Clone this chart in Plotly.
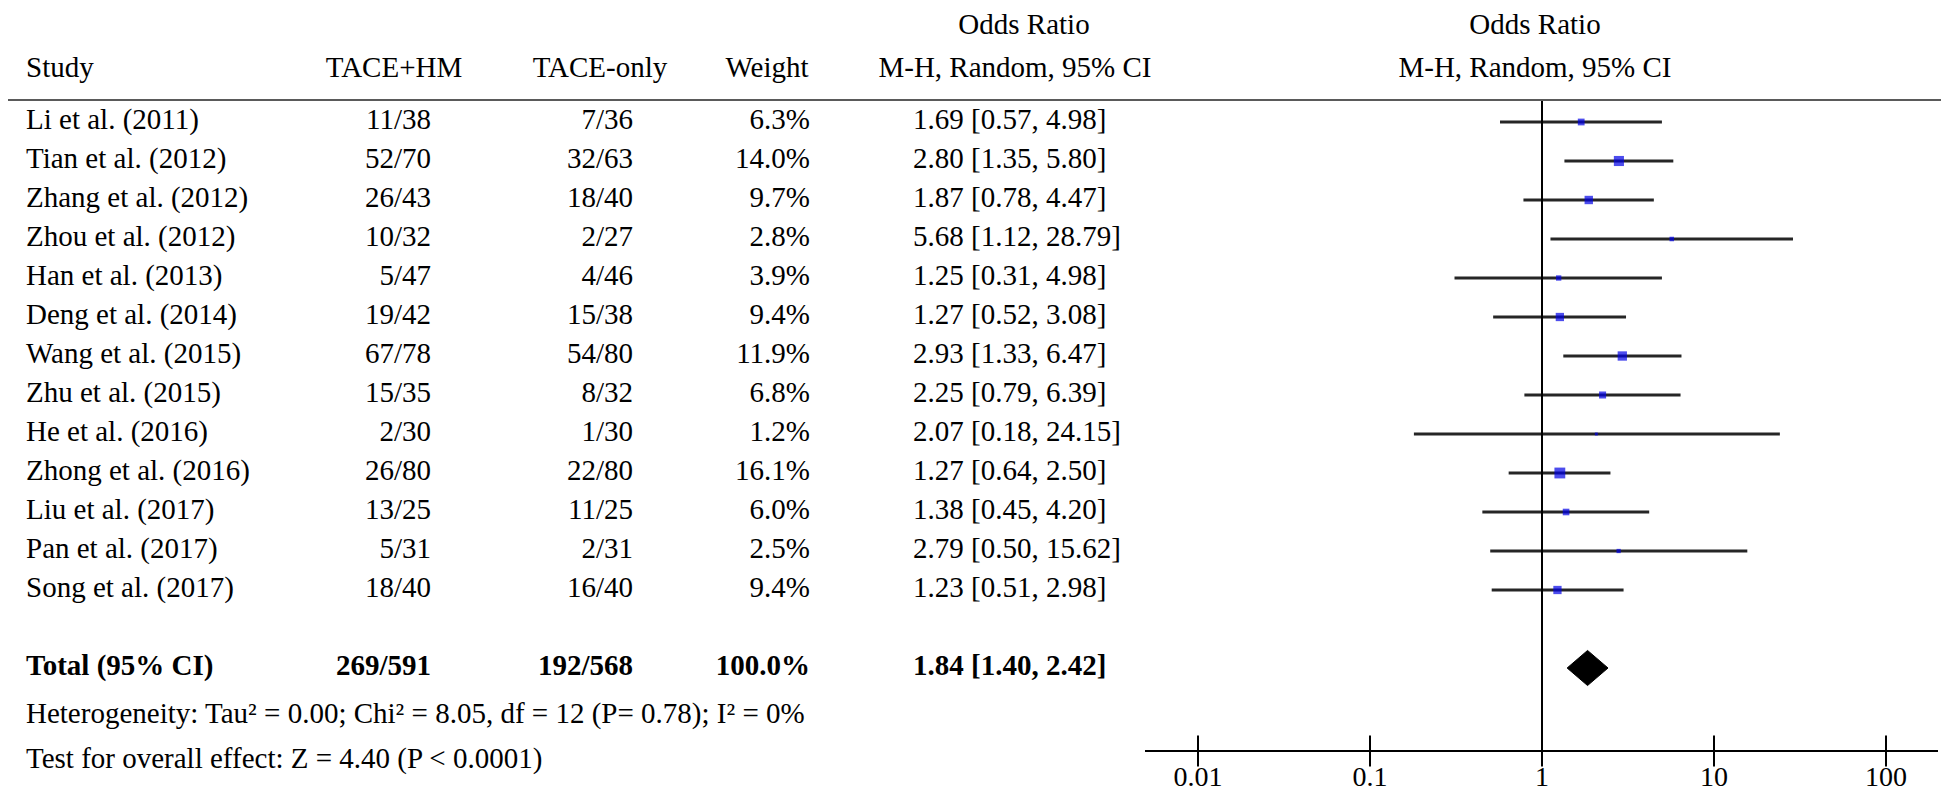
import plotly.graph_objects as go

# ---- data ----
studies = ["Li et al. (2011)", "Tian et al. (2012)", "Zhang et al. (2012)",
           "Zhou et al. (2012)", "Han et al. (2013)", "Deng et al. (2014)",
           "Wang et al. (2015)", "Zhu et al. (2015)", "He et al. (2016)",
           "Zhong et al. (2016)", "Liu et al. (2017)", "Pan et al. (2017)",
           "Song et al. (2017)"]
hm_events = [11, 52, 26, 10, 5, 19, 67, 15, 2, 26, 13, 5, 18]
hm_total = [38, 70, 43, 32, 47, 42, 78, 35, 30, 80, 25, 31, 40]
ctrl_events = [7, 32, 18, 2, 4, 15, 54, 8, 1, 22, 11, 2, 16]
ctrl_total = [36, 63, 40, 27, 46, 38, 80, 32, 30, 80, 25, 31, 40]
weights = [6.3, 14.0, 9.7, 2.8, 3.9, 9.4, 11.9, 6.8, 1.2, 16.1, 6.0, 2.5, 9.4]
odds = [1.69, 2.80, 1.87, 5.68, 1.25, 1.27, 2.93, 2.25, 2.07, 1.27, 1.38, 2.79, 1.23]
ci_low = [0.57, 1.35, 0.78, 1.12, 0.31, 0.52, 1.33, 0.79, 0.18, 0.64, 0.45, 0.50, 0.51]
ci_high = [4.98, 5.80, 4.47, 28.79, 4.98, 3.08, 6.47, 6.39, 24.15, 2.50, 4.20, 15.62, 2.98]

total_hm_events, total_hm_n = 269, 591
total_ctrl_events, total_ctrl_n = 192, 568
total_weight = 100.0
pooled_or, pooled_low, pooled_high = 1.84, 1.40, 2.42

het_text = "Heterogeneity: Tau² = 0.00; Chi² = 8.05, df = 12 (P= 0.78); I² = 0%"
effect_text = "Test for overall effect: Z = 4.40 (P < 0.0001)"

tick_vals = [0.01, 0.1, 1, 10, 100]
tick_text = ["0.01", "0.1", "1", "10", "100"]

# ---- layout constants (pixels / row units) ----
W, H = 1949, 790
ROW0_PX, ROW_PX = 114, 39
def row_of(px):
    return (px - ROW0_PX) / ROW_PX

rows = list(range(len(studies)))
TOTAL_ROW = row_of(660)
HET_ROW = row_of(708)
TEST_ROW = row_of(753)
AXIS_ROW = row_of(743)
HEAD_ROW = row_of(62)
TITLE_ROW = row_of(19)
RULE_ROW = row_of(92)

X_STUDY, X_HM, X_CTRL, X_W, X_CI = 18, 423, 625, 802, 905
FONT = dict(family="Liberation Serif", size=29, color="black")
TICK_FONT = dict(family="Liberation Serif", size=28, color="black")
BOLD = lambda s: "<b>" + s + "</b>"

fig = go.Figure()

def col(x, texts, y, pos):
    fig.add_trace(go.Scatter(x=[x] * len(texts), y=y, text=texts, mode="text",
                             textposition=pos, textfont=FONT, xaxis="x", yaxis="y",
                             cliponaxis=False, showlegend=False, hoverinfo="skip"))

# table columns
col(X_STUDY, studies + [BOLD("Total (95% CI)")], rows + [TOTAL_ROW], "middle right")
col(X_HM, [f"{e}/{n}" for e, n in zip(hm_events, hm_total)]
    + [BOLD(f"{total_hm_events}/{total_hm_n}")], rows + [TOTAL_ROW], "middle left")
col(X_CTRL, [f"{e}/{n}" for e, n in zip(ctrl_events, ctrl_total)]
    + [BOLD(f"{total_ctrl_events}/{total_ctrl_n}")], rows + [TOTAL_ROW], "middle left")
col(X_W, [f"{w:.1f}%" for w in weights] + [BOLD(f"{total_weight:.1f}%")],
    rows + [TOTAL_ROW], "middle left")
col(X_CI, [f"{o:.2f} [{l:.2f}, {h:.2f}]" for o, l, h in zip(odds, ci_low, ci_high)]
    + [BOLD(f"{pooled_or:.2f} [{pooled_low:.2f}, {pooled_high:.2f}]")],
    rows + [TOTAL_ROW], "middle right")
col(X_STUDY, [het_text, effect_text], [HET_ROW, TEST_ROW], "middle right")

# headers
col(X_STUDY, ["Study"], [HEAD_ROW], "middle right")
col(386, ["TACE+HM"], [HEAD_ROW], "middle center")
col(592, ["TACE-only"], [HEAD_ROW], "middle center")
col(759, ["Weight"], [HEAD_ROW], "middle center")
col(1007, ["M-H, Random, 95% CI"], [HEAD_ROW], "middle center")
col(1016, ["Odds Ratio"], [TITLE_ROW], "middle center")
col(1527, ["M-H, Random, 95% CI"], [HEAD_ROW], "middle center")
col(1527, ["Odds Ratio"], [TITLE_ROW], "middle center")

# study estimates with confidence intervals
fig.add_trace(go.Scatter(
    x=odds, y=rows, mode="markers", xaxis="x2", yaxis="y",
    marker=dict(symbol="square", color="#0000e6",
                size=[2.7 * w ** 0.5 for w in weights], line_width=0),
    error_x=dict(type="data", symmetric=False,
                 array=[h - o for o, h in zip(odds, ci_high)],
                 arrayminus=[o - l for o, l in zip(odds, ci_low)],
                 color="#262626", thickness=3, width=0),
    showlegend=False, hoverinfo="skip"))

# pooled diamond
dh = 0.45
fig.add_trace(go.Scatter(
    x=[pooled_low, pooled_or, pooled_high, pooled_or, pooled_low],
    y=[TOTAL_ROW, TOTAL_ROW - dh, TOTAL_ROW, TOTAL_ROW + dh, TOTAL_ROW],
    mode="lines", fill="toself", fillcolor="black", line=dict(color="black", width=1),
    xaxis="x2", yaxis="y", showlegend=False, hoverinfo="skip"))

# tick marks crossing the axis line
fig.add_trace(go.Scatter(
    x=tick_vals, y=[AXIS_ROW] * len(tick_vals), mode="markers", xaxis="x2", yaxis="y",
    marker=dict(symbol="line-ns-open", size=22, color="black",
                line=dict(color="black", width=2)),
    cliponaxis=False, showlegend=False, hoverinfo="skip"))

# line of no effect and header rule
fig.add_shape(type="line", xref="x2", yref="y", x0=1, x1=1,
              y0=RULE_ROW, y1=row_of(753), line=dict(color="black", width=2))
fig.add_shape(type="line", xref="paper", yref="y", x0=0, x1=1,
              y0=RULE_ROW, y1=RULE_ROW, line=dict(color="#5a5a5a", width=2))

y_top, y_bot = row_of(0), row_of(H)
log_l = (1137 - 1534) / 172
log_r = (1930 - 1534) / 172

fig.update_layout(
    width=W, height=H, margin=dict(l=0, r=0, t=0, b=0),
    paper_bgcolor="white", plot_bgcolor="rgba(0,0,0,0)", font=FONT,
    xaxis=dict(range=[0, W], domain=[0, 1], visible=False, fixedrange=True),
    xaxis2=dict(type="log", range=[log_l, log_r], domain=[1137 / W, 1930 / W],
                anchor="free", position=1 - 743 / H,
                showline=True, linecolor="black", linewidth=2,
                showgrid=False, zeroline=False, ticks="",
                tickvals=tick_vals, ticktext=tick_text, ticklabelstandoff=0,
                tickfont=TICK_FONT),
    yaxis=dict(range=[y_bot, y_top], domain=[0, 1], visible=False),
)

fig.write_html("out.html")
